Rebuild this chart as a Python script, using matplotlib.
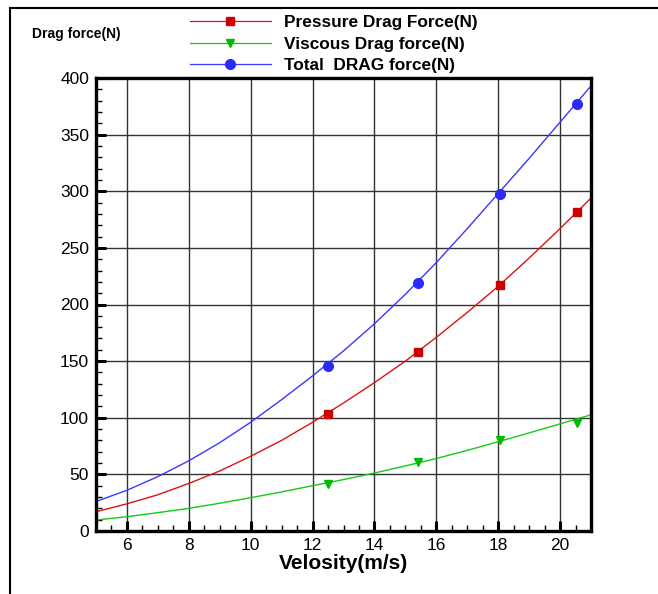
import matplotlib
matplotlib.use("Agg")
import matplotlib.pyplot as plt
from matplotlib.lines import Line2D
from matplotlib.ticker import MultipleLocator

plt.rcParams['font.family'] = ['Liberation Sans', 'DejaVu Sans']

# curves at integer velocities
v_curve = [5, 6, 7, 8, 9, 10, 11, 12, 13, 14, 15, 16, 17, 18, 19, 20, 21]
total_curve = [26, 36, 48, 62, 78, 96, 116, 137, 159, 183, 209, 237, 267, 298, 329, 361, 393]
pressure_curve = [17, 24, 32, 42, 53, 66, 80, 96, 113, 131, 150, 171, 193, 216, 241, 267, 294]
viscous_curve = [9.7, 12.6, 16.2, 20.0, 24.5, 29.4, 34.5, 40.0, 45.4, 51.2, 57.5, 64.0, 71.2, 78.8, 86.6, 94.6, 102.6]

# measured points
v_pts = [12.5, 15.4, 18.05, 20.55]
total_pts = [146, 219, 298, 377]
pressure_pts = [103, 158, 217, 282]
viscous_pts = [41.5, 60.6, 80.4, 95.6]

labels = ['Pressure Drag Force(N)', 'Viscous Drag force(N)', 'Total  DRAG force(N)']

fig = plt.figure(figsize=(6.58, 5.94), dpi=100)
ax = fig.add_axes([96 / 658, 63 / 594, 495 / 658, 453 / 594])

red, green, blue = '#dd1111', '#11cc11', '#3838ff'

ax.plot(v_curve, pressure_curve, color=red, lw=1.0)
ax.plot(v_curve, viscous_curve, color=green, lw=1.0)
ax.plot(v_curve, total_curve, color=blue, lw=1.0)
ax.plot(v_pts, pressure_pts, ls='none', marker='s', ms=6, color='#cc0000')
ax.plot(v_pts, viscous_pts, ls='none', marker='v', ms=6, color='#00bb00')
ax.plot(v_pts, total_pts, ls='none', marker='o', ms=7, color='#2a2aff')

ax.set_xlim(5, 21)
ax.set_ylim(0, 400)
ax.xaxis.set_major_locator(MultipleLocator(2))
ax.xaxis.set_minor_locator(MultipleLocator(0.5))
ax.yaxis.set_major_locator(MultipleLocator(50))
ax.yaxis.set_minor_locator(MultipleLocator(10))
ax.tick_params(which='major', direction='in', length=7, width=2.2, labelsize=12.5, pad=5)
ax.tick_params(which='minor', direction='in', length=4, width=1)
ax.grid(True, which='major', color='#333333', lw=1.0)
for s in ax.spines.values():
    s.set_linewidth(2.4)

ax.set_xlabel('Velosity(m/s)', fontsize=15, fontweight='bold', labelpad=1)
fig.text(76 / 658, 1 - 34 / 594, 'Drag force(N)', fontsize=10, fontweight='bold',
         ha='center', va='center')

handles = [
    Line2D([], [], color=red, lw=0.9, marker='s', ms=6, mfc='#cc0000', mec='#cc0000'),
    Line2D([], [], color=green, lw=0.9, marker='v', ms=6, mfc='#00bb00', mec='#00bb00'),
    Line2D([], [], color=blue, lw=0.9, marker='o', ms=7, mfc='#2a2aff', mec='#2a2aff'),
]
fig.legend(handles, labels, loc='upper left', bbox_to_anchor=(190 / 658, 1 - 15 / 594),
           frameon=False, borderpad=0, borderaxespad=0, handlelength=4.7,
           handletextpad=0.75, labelspacing=0.38, prop={'size': 12.4, 'weight': 'bold'})

# page frame lines
fig.add_artist(Line2D([9.5 / 658, 9.5 / 658], [0, 1 - 7.5 / 594], color='black', lw=1.5))
fig.add_artist(Line2D([9.5 / 658, 1], [1 - 7.5 / 594, 1 - 7.5 / 594], color='black', lw=1.5))

fig.savefig('out.png', dpi=100)
